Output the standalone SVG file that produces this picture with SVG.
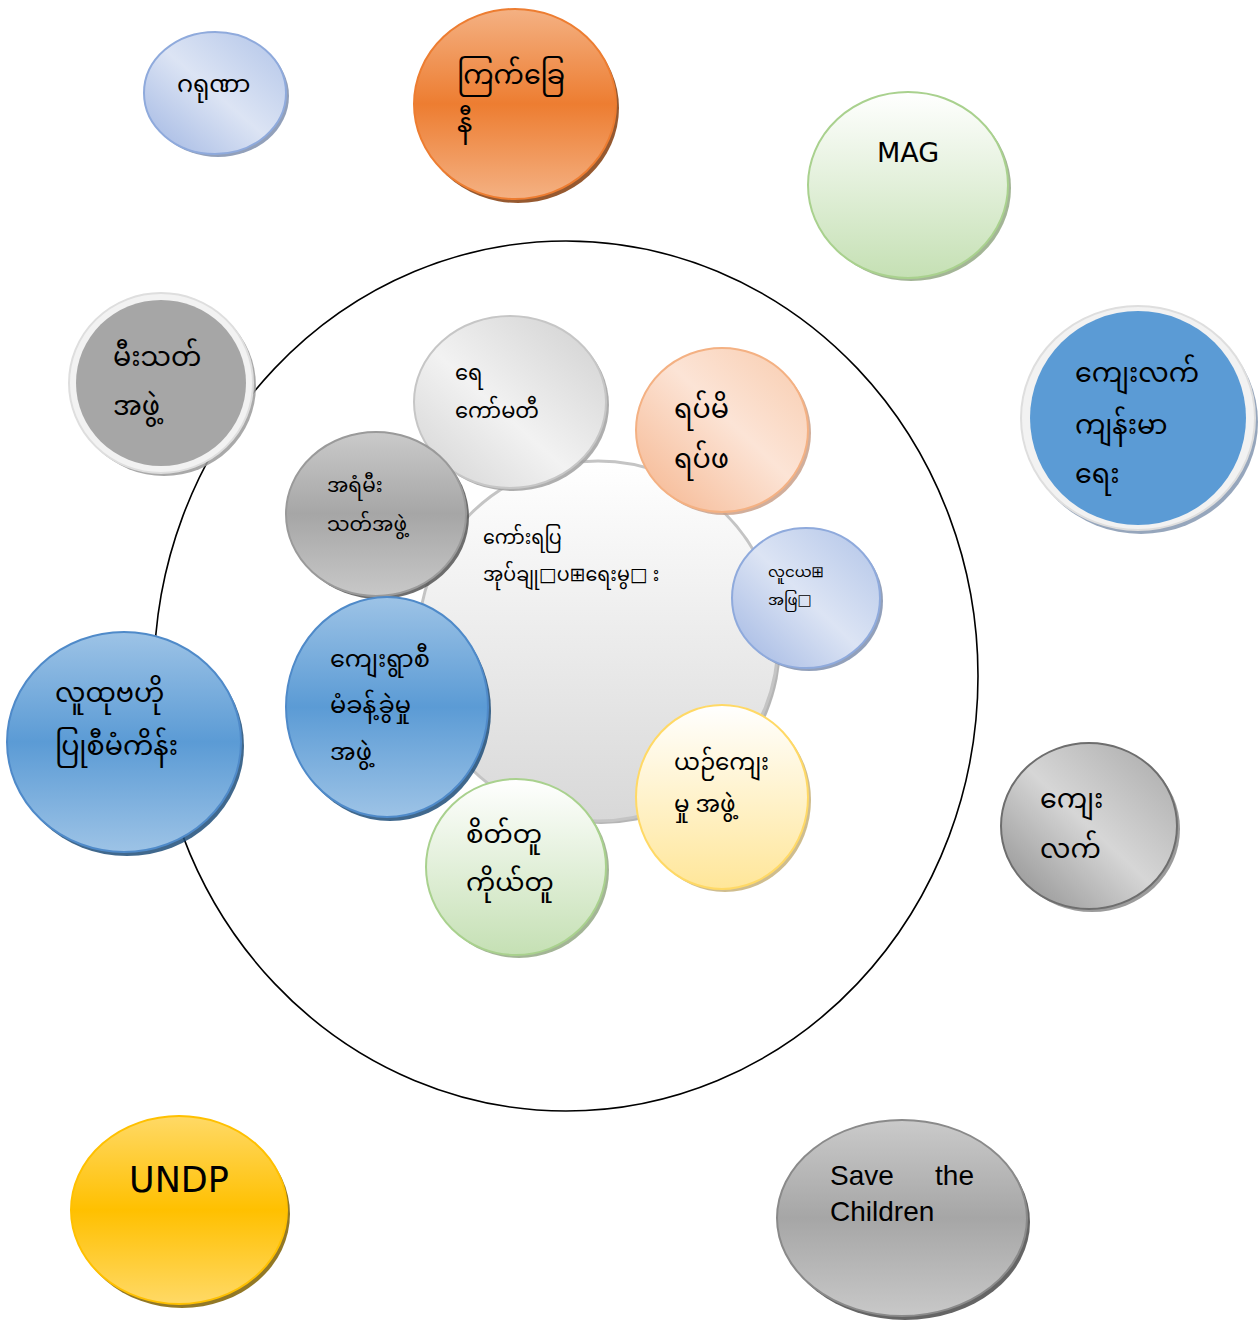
<svg xmlns="http://www.w3.org/2000/svg" width="1258" height="1320" viewBox="0 0 1258 1320">
<defs>
<style>
.my{font-family:'Noto Sans Myanmar','Padauk','Myanmar Text','Myanmar3','Noto Sans','DejaVu Sans',sans-serif;fill:#000}
.lat{font-family:'DejaVu Sans','Noto Sans',sans-serif;fill:#000}
.ar{font-family:'Liberation Sans',Arial,sans-serif;fill:#000}
.sh{opacity:0.85}
</style>
<linearGradient id="gLav" x1="0" y1="1" x2="1" y2="0">
<stop offset="0" stop-color="#9fb5e2"/><stop offset="0.5" stop-color="#dce4f4"/><stop offset="1" stop-color="#b1c4e8"/>
</linearGradient>
<linearGradient id="gGrayD" x1="0" y1="1" x2="1" y2="0">
<stop offset="0" stop-color="#d2d2d2"/><stop offset="0.45" stop-color="#f2f2f2"/><stop offset="1" stop-color="#cfcfcf"/>
</linearGradient>
<linearGradient id="gPeach" x1="0" y1="1" x2="1" y2="0">
<stop offset="0" stop-color="#f5b48c"/><stop offset="0.55" stop-color="#fce4d6"/><stop offset="1" stop-color="#f8cbad"/>
</linearGradient>
<linearGradient id="gSilver" x1="0" y1="1" x2="1" y2="0">
<stop offset="0" stop-color="#8a8a8a"/><stop offset="0.5" stop-color="#d6d6d6"/><stop offset="1" stop-color="#a8a8a8"/>
</linearGradient>
<linearGradient id="gBlue" x1="0" y1="0" x2="0" y2="1">
<stop offset="0" stop-color="#9dc3e6"/><stop offset="0.5" stop-color="#5b9bd5"/><stop offset="1" stop-color="#9dc3e6"/>
</linearGradient>
<linearGradient id="gOrange" x1="0" y1="0" x2="0" y2="1">
<stop offset="0" stop-color="#f4b183"/><stop offset="0.5" stop-color="#ed7d31"/><stop offset="1" stop-color="#f4b183"/>
</linearGradient>
<linearGradient id="gGold" x1="0" y1="0" x2="0" y2="1">
<stop offset="0" stop-color="#ffd966"/><stop offset="0.5" stop-color="#ffc000"/><stop offset="1" stop-color="#ffd966"/>
</linearGradient>
<linearGradient id="gGrayV" x1="0" y1="0" x2="0" y2="1">
<stop offset="0" stop-color="#cacaca"/><stop offset="0.5" stop-color="#a6a6a6"/><stop offset="1" stop-color="#c8c8c8"/>
</linearGradient>
<linearGradient id="gGreen" x1="0" y1="0" x2="0" y2="1">
<stop offset="0" stop-color="#ffffff"/><stop offset="1" stop-color="#c5e0b4"/>
</linearGradient>
<linearGradient id="gYellow" x1="0" y1="0" x2="0" y2="1">
<stop offset="0" stop-color="#ffffff"/><stop offset="1" stop-color="#ffe699"/>
</linearGradient>
<linearGradient id="gCenter" x1="0" y1="0" x2="0" y2="1">
<stop offset="0" stop-color="#ffffff"/><stop offset="1" stop-color="#d8d8d8"/>
</linearGradient>
</defs>
<rect width="1258" height="1320" fill="#ffffff"/>

<g id="ring">
<ellipse cx="566" cy="676" rx="412" ry="435" fill="none" stroke="#000" stroke-width="1.6"/>
</g>

<g id="connectors"></g>

<g id="node-center">
<ellipse cx="601" cy="644" rx="180" ry="180" fill="#a8a8a8" class="sh"/>
<ellipse cx="598" cy="641" rx="180" ry="180" fill="url(#gCenter)" stroke="#c4c4c4" stroke-width="3"/>
<text class="my" font-size="19" x="483" y="544">ကော်းရပြ</text>
<text class="my" font-size="19" x="483" y="581">အုပ်ချု□ပ⊞ရေးမွ□&#160;း</text>
</g>

<g id="node-ye">
<ellipse cx="513" cy="405" rx="96" ry="86" fill="#a0a0a0" class="sh"/>
<ellipse cx="510" cy="402" rx="96" ry="86" fill="url(#gGrayD)" stroke="#c6c6c6" stroke-width="2"/>
<text class="my" font-size="21" x="455" y="380">ရေ</text>
<text class="my" font-size="21" x="455" y="418">ကော်မတီ</text>
</g>

<g id="node-reserve-fire">
<ellipse cx="379" cy="517" rx="90" ry="82" fill="#555555" class="sh"/>
<ellipse cx="376" cy="514" rx="90" ry="82" fill="url(#gGrayV)" stroke="#9a9a9a" stroke-width="2"/>
<text class="my" font-size="20" x="327" y="492">အရံမီး</text>
<text class="my" font-size="20" x="327" y="531">သတ်အဖွဲ့</text>
</g>

<g id="node-elders">
<ellipse cx="725" cy="433" rx="86" ry="82" fill="#c9a08a" class="sh"/>
<ellipse cx="722" cy="430" rx="86" ry="82" fill="url(#gPeach)" stroke="#f4b183" stroke-width="2"/>
<text class="my" font-size="27" x="674" y="418">ရပ်မိ</text>
<text class="my" font-size="27" x="674" y="468">ရပ်ဖ</text>
</g>

<g id="node-youth">
<ellipse cx="809" cy="601" rx="74" ry="70" fill="#7f8fae" class="sh"/>
<ellipse cx="806" cy="598" rx="74" ry="70" fill="url(#gLav)" stroke="#8faadc" stroke-width="2"/>
<text class="my" font-size="15" x="768" y="577">လူငယ⊞</text>
<text class="my" font-size="15" x="768" y="605">အဖြ□</text>
</g>

<g id="node-culture">
<ellipse cx="725" cy="800" rx="86" ry="92" fill="#c7b27a" class="sh"/>
<ellipse cx="722" cy="797" rx="86" ry="92" fill="url(#gYellow)" stroke="#ffd966" stroke-width="2"/>
<text class="my" font-size="23" x="674" y="770">ယဉ်ကျေး</text>
<text class="my" font-size="23" x="674" y="812">မှု အဖွဲ့</text>
</g>

<g id="node-likeminded">
<ellipse cx="519" cy="870" rx="90" ry="88" fill="#93a884" class="sh"/>
<ellipse cx="516" cy="867" rx="90" ry="88" fill="url(#gGreen)" stroke="#a9d18e" stroke-width="2"/>
<text class="my" font-size="26" x="466" y="843">စိတ်တူ</text>
<text class="my" font-size="26" x="466" y="891">ကိုယ်တူ</text>
</g>

<g id="node-village-admin">
<ellipse cx="390" cy="711" rx="101" ry="110" fill="#1f4e79" class="sh"/>
<ellipse cx="387" cy="707" rx="101" ry="110" fill="url(#gBlue)" stroke="#4f8ac9" stroke-width="2"/>
<text class="my" font-size="24" x="330" y="667">ကျေးရွာစီ</text>
<text class="my" font-size="24" x="330" y="713">မံခန့်ခွဲမှု</text>
<text class="my" font-size="24" x="330" y="760">အဖွဲ့</text>
</g>

<g id="node-karuna">
<ellipse cx="218" cy="96" rx="71" ry="61" fill="#7f8fae" class="sh"/>
<ellipse cx="215" cy="93" rx="71" ry="61" fill="url(#gLav)" stroke="#8faadc" stroke-width="2"/>
<text class="my" font-size="24" x="177" y="92">ဂရုဏာ</text>
</g>

<g id="node-redcross">
<ellipse cx="518" cy="108" rx="101" ry="95" fill="#843c0c" class="sh"/>
<ellipse cx="515" cy="104" rx="101" ry="95" fill="url(#gOrange)" stroke="#ed7d31" stroke-width="2"/>
<text class="my" font-size="27" x="457" y="84">ကြက်ခြေ</text>
<text class="my" font-size="27" x="457" y="132">နီ</text>
</g>

<g id="node-mag">
<ellipse cx="911" cy="188" rx="100" ry="93" fill="#93a884" class="sh"/>
<ellipse cx="908" cy="185" rx="100" ry="93" fill="url(#gGreen)" stroke="#a9d18e" stroke-width="2"/>
<text class="lat" font-size="27" x="908" y="162" text-anchor="middle">MAG</text>
</g>

<g id="node-rural-health">
<ellipse cx="1141" cy="422" rx="117" ry="112" fill="#8497b0" class="sh"/>
<ellipse cx="1138" cy="418" rx="117" ry="112" fill="#f2f2f2" stroke="#dedede" stroke-width="2"/>
<ellipse cx="1138" cy="418" rx="108" ry="107" fill="#5b9bd5"/>
<text class="my" font-size="27" x="1075" y="382">ကျေးလက်</text>
<text class="my" font-size="27" x="1075" y="434">ကျန်းမာ</text>
<text class="my" font-size="27" x="1075" y="483">ရေး</text>
</g>

<g id="node-fire">
<ellipse cx="164" cy="386" rx="92" ry="90" fill="#9a9a9a" class="sh"/>
<ellipse cx="161" cy="383" rx="92" ry="90" fill="#f2f2f2" stroke="#dedede" stroke-width="2"/>
<ellipse cx="161" cy="383" rx="85" ry="83" fill="#a6a6a6"/>
<text class="my" font-size="27" x="113" y="366">မီးသတ်</text>
<text class="my" font-size="27" x="113" y="415">အဖွဲ့</text>
</g>

<g id="node-community">
<ellipse cx="127" cy="746" rx="117" ry="110" fill="#1f4e79" class="sh"/>
<ellipse cx="124" cy="742" rx="117" ry="110" fill="url(#gBlue)" stroke="#4f8ac9" stroke-width="2"/>
<text class="my" font-size="27" x="55" y="702">လူထုဗဟို</text>
<text class="my" font-size="27" x="55" y="755">ပြုစီမံကိန်း</text>
</g>

<g id="node-rural">
<ellipse cx="1092" cy="829" rx="88" ry="83" fill="#8a8a8a" class="sh"/>
<ellipse cx="1089" cy="826" rx="88" ry="83" fill="url(#gSilver)" stroke="#6e6e6e" stroke-width="2"/>
<text class="my" font-size="27" x="1040" y="808">ကျေး</text>
<text class="my" font-size="27" x="1040" y="858">လက်</text>
</g>

<g id="node-undp">
<ellipse cx="182" cy="1214" rx="108" ry="94" fill="#7f6000" class="sh"/>
<ellipse cx="179" cy="1210" rx="108" ry="94" fill="url(#gGold)" stroke="#ffc000" stroke-width="2"/>
<text class="lat" font-size="35" x="179" y="1192" text-anchor="middle">UNDP</text>
</g>

<g id="node-savechildren">
<ellipse cx="905" cy="1222" rx="125" ry="98" fill="#4a4a4a" class="sh"/>
<ellipse cx="902" cy="1218" rx="125" ry="98" fill="url(#gGrayV)" stroke="#8a8a8a" stroke-width="2"/>
<text class="ar" font-size="28" x="830" y="1185">Save</text>
<text class="ar" font-size="28" x="974" y="1185" text-anchor="end">the</text>
<text class="ar" font-size="28" x="830" y="1221">Children</text>
</g>
</svg>
